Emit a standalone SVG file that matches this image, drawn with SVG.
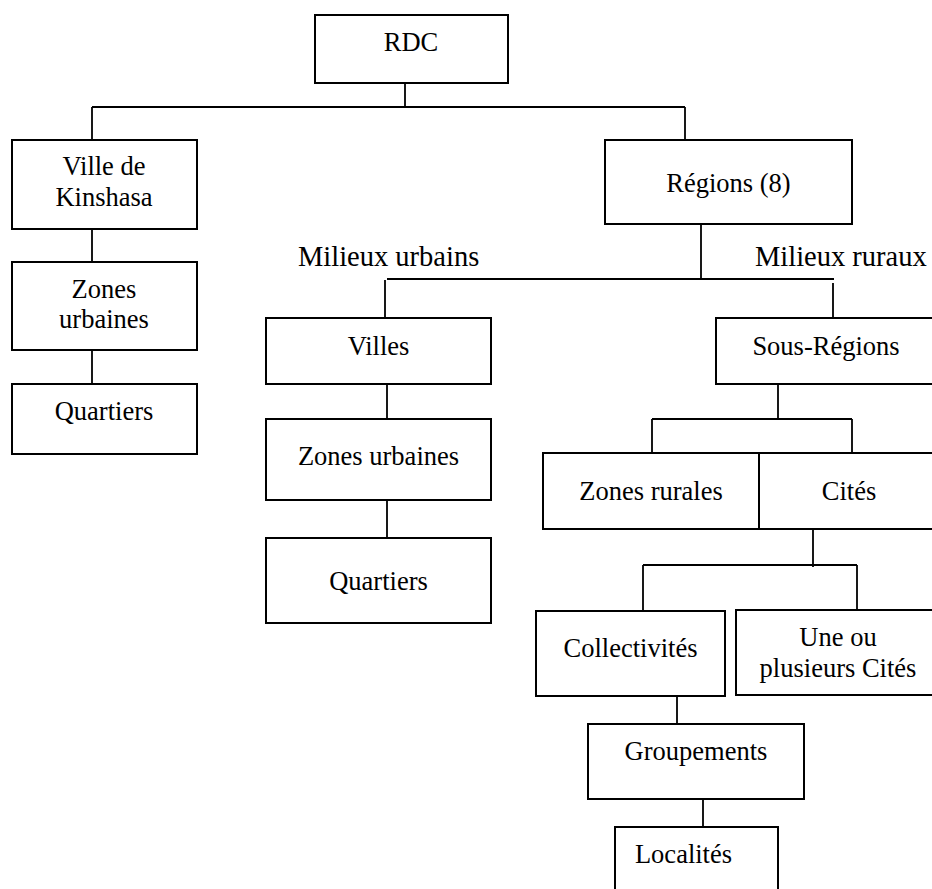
<svg xmlns="http://www.w3.org/2000/svg" width="932" height="889" viewBox="0 0 932 889">
  <style>
    .box { fill: #ffffff; stroke: #000000; stroke-width: 2; }
    .lnk { fill: none; stroke: #000000; stroke-width: 1.8; }
    .t { font-family: "Liberation Serif", "Times New Roman", serif; font-size: 26.5px; fill: #000000; text-anchor: middle; }
    .lab { font-family: "Liberation Serif", "Times New Roman", serif; font-size: 28.5px; fill: #000000; }
  </style>
  <rect width="932" height="889" fill="#ffffff"/>

  <!-- tree connectors -->
  <g id="connectors">
    <path class="lnk" d="M405,83 V107 M92,107 H685 M92,107 V140 M685,107 V140"/>
    <path class="lnk" d="M92,229 V262 M92,350 V384"/>
    <path class="lnk" d="M701,224 V279 M387,279 H834 M385,280 V318 M833,283 V318"/>
    <path class="lnk" d="M387,384 V419 M387,500 V538"/>
    <path class="lnk" d="M778,384 V419 M652,419 H852 M652,419 V453 M852,419 V453"/>
    <path class="lnk" d="M813,529 V567 M643,565 H857 M643,565 V611 M857,565 V610"/>
    <path class="lnk" d="M677,696 V724 M703,799 V827"/>
  </g>

  <!-- branch labels -->
  <text class="lab" x="298" y="266">Milieux urbains</text>
  <text class="lab" x="755" y="266">Milieux ruraux</text>

  <g id="rdc">
    <rect class="box" x="315" y="15" width="193" height="68"/>
    <text class="t" x="411" y="51">RDC</text>
  </g>

  <g id="kinshasa">
    <rect class="box" x="12" y="140" width="185" height="89"/>
    <text class="t" x="104" y="175">Ville de</text>
    <text class="t" x="104" y="206">Kinshasa</text>
  </g>

  <g id="kin-zones">
    <rect class="box" x="12" y="262" width="185" height="88"/>
    <text class="t" x="104" y="298">Zones</text>
    <text class="t" x="104" y="328">urbaines</text>
  </g>

  <g id="kin-quartiers">
    <rect class="box" x="12" y="384" width="185" height="70"/>
    <text class="t" x="104" y="420">Quartiers</text>
  </g>

  <g id="regions">
    <rect class="box" x="605" y="140" width="247" height="84"/>
    <text class="t" x="728.5" y="192">Régions (8)</text>
  </g>

  <g id="villes">
    <rect class="box" x="266" y="318" width="225" height="66"/>
    <text class="t" x="378.5" y="355">Villes</text>
  </g>

  <g id="villes-zones">
    <rect class="box" x="266" y="419" width="225" height="81"/>
    <text class="t" x="378.5" y="465">Zones urbaines</text>
  </g>

  <g id="villes-quartiers">
    <rect class="box" x="266" y="538" width="225" height="85"/>
    <text class="t" x="378.5" y="590">Quartiers</text>
  </g>

  <g id="sous-regions">
    <rect class="box" x="716" y="318" width="220" height="66"/>
    <text class="t" x="826" y="355">Sous-Régions</text>
  </g>

  <g id="zones-rurales">
    <rect class="box" x="543" y="453" width="216" height="76"/>
    <text class="t" x="651" y="500">Zones rurales</text>
  </g>

  <g id="cites">
    <rect class="box" x="759" y="453" width="180" height="76"/>
    <text class="t" x="849" y="500">Cités</text>
  </g>

  <g id="collectivites">
    <rect class="box" x="536" y="611" width="189" height="85"/>
    <text class="t" x="630.5" y="657">Collectivités</text>
  </g>

  <g id="plusieurs-cites">
    <rect class="box" x="736" y="610" width="204" height="85"/>
    <text class="t" x="838" y="646">Une ou</text>
    <text class="t" x="838" y="677">plusieurs Cités</text>
  </g>

  <g id="groupements">
    <rect class="box" x="588" y="724" width="216" height="75"/>
    <text class="t" x="696" y="760">Groupements</text>
  </g>

  <g id="localites">
    <rect class="box" x="615" y="827" width="163" height="80"/>
    <text class="t" x="683.5" y="863">Localités</text>
  </g>
</svg>
